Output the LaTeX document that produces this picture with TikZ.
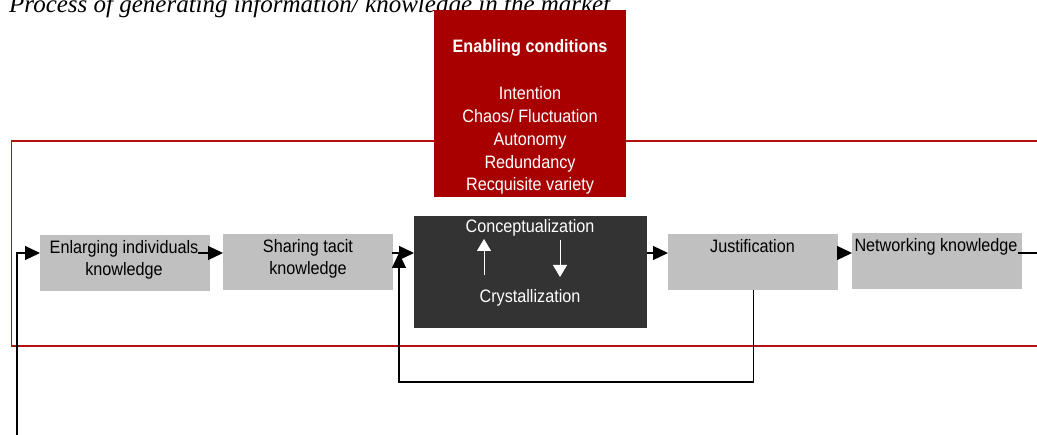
\documentclass[tikz,border=0pt]{standalone}
\usepackage{fontspec}
\setmainfont{Liberation Sans}[FakeStretch=0.9]
\newfontfamily\titlefont{Liberation Serif}
\usetikzlibrary{arrows.meta}
\definecolor{boxgray}{HTML}{C0C0C0}
\definecolor{darkbox}{HTML}{333333}
\definecolor{enred}{HTML}{A80000}
\definecolor{framered}{HTML}{B41010}
\begin{document}
\begin{tikzpicture}[x=1pt,y=-1pt,
  graybox/.style={fill=boxgray, draw=none, minimum width=170pt, minimum height=56pt, inner sep=0pt, anchor=north west},
  lbl/.style={font=\fontsize{18}{22}\selectfont, inner sep=0pt, anchor=base},
  arr/.style={line width=1.3pt, -{Triangle[length=15pt,width=14pt]}},
  warr/.style={white, line width=0.8pt, -{Triangle[length=12pt,width=14pt]}},
]
\useasboundingbox (0,0) rectangle (1037,435);
\clip (0,0) rectangle (1037,435);
% title
\node[anchor=base west, inner sep=0pt, font=\titlefont\itshape\fontsize{25}{30}\selectfont] (title) at (9,12.5) {Process of generating information/ knowledge in the market};
% frame
\draw[framered, line width=1.3pt] (1045,141) -- (11.5,141) -- (11.5,346) -- (1045,346);
% enabling conditions
\node[fill=enred, minimum width=192pt, minimum height=187pt, inner sep=0pt, anchor=north west] (ec) at (434,10) {};
\node[lbl, white, font=\bfseries\fontsize{18}{22}\selectfont] (ect) at (530,53) {Enabling conditions};
\node[lbl, white] (ec1) at (530,100) {Intention};
\node[lbl, white] (ec2) at (530,123) {Chaos/ Fluctuation};
\node[lbl, white] (ec3) at (530,146) {Autonomy};
\node[lbl, white] (ec4) at (530,168.5) {Redundancy};
\node[lbl, white] (ec5) at (530,191) {Recquisite variety};
% boxes
\node[graybox] (e) at (40,235) {};
\node[graybox] (s) at (223,234) {};
\node[graybox, fill=darkbox, minimum width=233pt, minimum height=112pt] (d) at (414,216) {};
\node[graybox] (j) at (668,234) {};
\node[graybox] (n) at (852,233) {};
% box texts
\node[lbl] (e1) at (124,254) {Enlarging individuals};
\node[lbl] (e2) at (124,276) {knowledge};
\node[lbl] (s1) at (308,253) {Sharing tacit};
\node[lbl] (s2) at (308,275) {knowledge};
\node[lbl, white] (d1) at (530,233) {Conceptualization};
\node[lbl, white] (d2) at (530,303) {Crystallization};
\node[lbl] (j1) at (752.5,253) {Justification};
\node[lbl] (n1) at (936,252) {Networking knowledge};
% connectors
\coordinate (cin) at (17,440);
\coordinate (cout) at (1045,253);
\draw[arr] (cin) -- (cin |- 0,253) -- (e.west |- 0,253);
\draw[arr] (e1.east |- 0,253) -- (s.west |- 0,253);
\draw[arr] ([xshift=-1pt]s.east |- 0,253) -- (d.west |- 0,253);
\draw[arr] (d.east |- 0,253) -- (j.west |- 0,253);
\draw[arr] ([xshift=-1pt]j.east |- 0,253) -- (n.west |- 0,253);
\draw[line width=1.3pt] (n1.east |- 0,253) -- (cout);
\draw[arr] (j.south) -- (j.south |- 0,382) -- (399,382) -- (399,253);
% inner arrows
\draw[warr] (484,275) -- (484,239);
\draw[warr] (560,240) -- (560,277);
\end{tikzpicture}
\end{document}
